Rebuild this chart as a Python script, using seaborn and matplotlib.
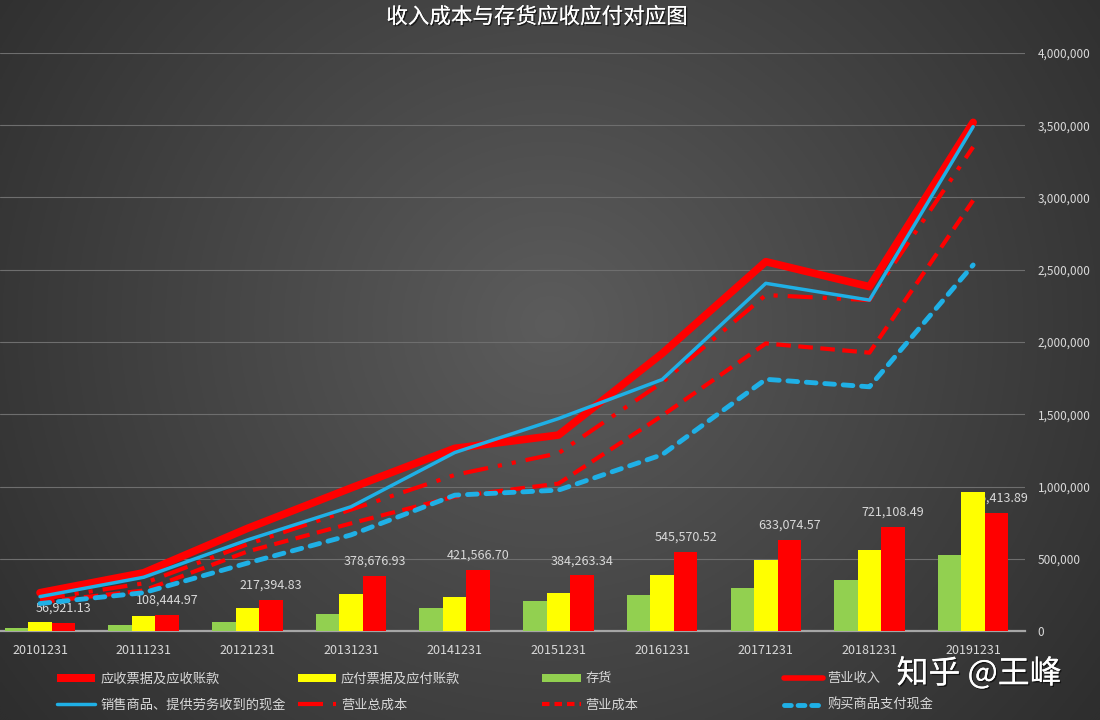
import numpy as np
import pandas as pd
import matplotlib.pyplot as plt
import matplotlib.patheffects as pe
import seaborn as sns
from matplotlib.lines import Line2D
from matplotlib.patches import Patch
from matplotlib.ticker import FuncFormatter

# categories (report dates)
dates = ["20101231", "20111231", "20121231", "20131231", "20141231",
         "20151231", "20161231", "20171231", "20181231", "20191231"]

# bar series
receivables = [56921.13, 108444.97, 217394.83, 378676.93, 421566.70,
               384263.34, 545570.52, 633074.57, 721108.49, 816413.89]
payables = [60000, 105000, 160000, 257000, 237000,
            264000, 389000, 488000, 562000, 965000]
inventory = [22000, 45000, 64000, 116000, 160000,
             211000, 246000, 299000, 354000, 527000]

# line series
revenue = [265000, 403000, 710000, 990000, 1264000,
           1356000, 1920000, 2556000, 2383000, 3520000]
cash_from_sales = [238000, 372000, 630000, 860000, 1235000,
                   1470000, 1740000, 2406000, 2290000, 3490000]
total_cost = [220000, 330000, 600000, 840000, 1080000,
              1230000, 1720000, 2325000, 2290000, 3350000]
operating_cost = [200000, 280000, 550000, 745000, 930000,
                  1020000, 1490000, 1990000, 1926000, 2980000]
cash_for_goods = [190000, 265000, 470000, 665000, 940000,
                  975000, 1220000, 1742000, 1690000, 2533000]

RED = "#FF0000"
YELLOW = "#FFFF00"
GREEN = "#92D050"
BLUE = "#1FB0E6"
TXT = "#D9D9D9"

sns.set_theme(style="white")
plt.rcParams["font.family"] = ["Noto Sans CJK SC", "DejaVu Sans"]

fig = plt.figure(figsize=(11, 7.2), dpi=100)

# --- dark radial background ---
bg = fig.add_axes([0, 0, 1, 1], zorder=-10)
gx, gy = np.meshgrid(np.linspace(0, 1, 440), np.linspace(0, 1, 288))
r = np.sqrt(((gx - 0.5) / 0.62) ** 2 + ((gy - 0.45) / 0.9) ** 2)
shade = (46 + 46 * (1 - np.clip(r, 0, 1))) / 255
bg.imshow(np.dstack([shade] * 3), aspect="auto", extent=[0, 1, 0, 1])
bg.axis("off")

ax = fig.add_axes([0, 0.1236, 0.9318, 0.8028])
ax.set_facecolor("none")

# --- bars ---
bar_order = ["存货", "应付票据及应付账款", "应收票据及应收账款"]
bars = pd.DataFrame({
    "date": dates * 3,
    "item": ["存货"] * 10 + ["应付票据及应付账款"] * 10 + ["应收票据及应收账款"] * 10,
    "value": inventory + payables + receivables,
})
sns.barplot(data=bars, x="date", y="value", hue="item", hue_order=bar_order,
            palette=[GREEN, YELLOW, RED], width=0.68, saturation=1,
            edgecolor="none", linewidth=0, legend=False, ax=ax, zorder=3)
ax.bar_label(ax.containers[2], labels=[f"{v:,.2f}" for v in receivables],
             padding=6, fontsize=9, color=TXT, zorder=2)

# --- lines ---
pos = np.arange(len(dates))
sns.lineplot(x=pos, y=revenue, color=RED, lw=5.5, ax=ax, zorder=5)
sns.lineplot(x=pos, y=cash_from_sales, color=BLUE, lw=2.5, ax=ax, zorder=6)
sns.lineplot(x=pos, y=total_cost, color=RED, lw=3,
             linestyle=(0, (6, 2.4, 1, 2.4, 1, 2.4)), ax=ax, zorder=5)
sns.lineplot(x=pos, y=operating_cost, color=RED, lw=3,
             linestyle=(0, (3.5, 1.8)), ax=ax, zorder=5)
sns.lineplot(x=pos, y=cash_for_goods, color=BLUE, lw=3.5,
             linestyle=(0, (2.0, 1.8)), dash_capstyle="round", ax=ax, zorder=5)

# --- axes styling ---
ax.set_xlim(-0.386, 9.5)
ax.set_ylim(0, 4000000)
ax.set_yticks(np.arange(0, 4000001, 500000))
ax.yaxis.tick_right()
ax.yaxis.set_major_formatter(FuncFormatter(lambda v, p: f"{int(v):,}"))
ax.tick_params(axis="y", length=0, pad=9, labelsize=8.5, labelcolor=TXT)
ax.tick_params(axis="x", length=0, pad=9, labelsize=9, labelcolor=TXT)
ax.set_xlabel("")
ax.set_ylabel("")
ax.grid(axis="y", color="#6E6E6E", lw=0.8)
ax.grid(axis="x", visible=False)
ax.set_axisbelow(True)
for side in ["top", "left", "right"]:
    ax.spines[side].set_visible(False)
ax.spines["bottom"].set_color("#A6A6A6")
ax.spines["bottom"].set_linewidth(1.6)

# --- title ---
shadow = [pe.withSimplePatchShadow(offset=(1, -1), shadow_rgbFace="black", alpha=0.6), pe.Normal()]
fig.text(0.488, 0.976, "收入成本与存货应收应付对应图", ha="center", va="center",
         fontsize=15.5, color="white", path_effects=shadow)

# --- legend: four columns, two rows ---
columns = [
    (0.052, [(Patch(facecolor=RED, edgecolor="none"), "应收票据及应收账款"),
             (Line2D([], [], color=BLUE, lw=2.5), "销售商品、提供劳务收到的现金")]),
    (0.271, [(Patch(facecolor=YELLOW, edgecolor="none"), "应付票据及应付账款"),
             (Line2D([], [], color=RED, lw=3, linestyle=(0, (6, 2.4, 1, 2.4, 1, 2.4))), "营业总成本")]),
    (0.493, [(Patch(facecolor=GREEN, edgecolor="none"), "存货"),
             (Line2D([], [], color=RED, lw=3, linestyle=(0, (1.8, 1.2))), "营业成本")]),
    (0.713, [(Line2D([], [], color=RED, lw=4), "营业收入"),
             (Line2D([], [], color=BLUE, lw=3.5, linestyle=(0, (1.4, 1.4)), dash_capstyle="round"), "购买商品支付现金")]),
]
for x0, entries in columns:
    fig.legend([h for h, _ in entries], [t for _, t in entries],
               loc="upper left", bbox_to_anchor=(x0, 0.066), frameon=False,
               fontsize=9.5, labelcolor=TXT, handlelength=2.9, handleheight=0.55,
               handletextpad=0.35, labelspacing=1.0, borderpad=0, borderaxespad=0)

# watermark
fig.text(0.815, 0.064, "知乎 @王峰", ha="left", va="center", fontsize=23,
         color="white", path_effects=shadow)

fig.savefig("out.png", dpi=100)
